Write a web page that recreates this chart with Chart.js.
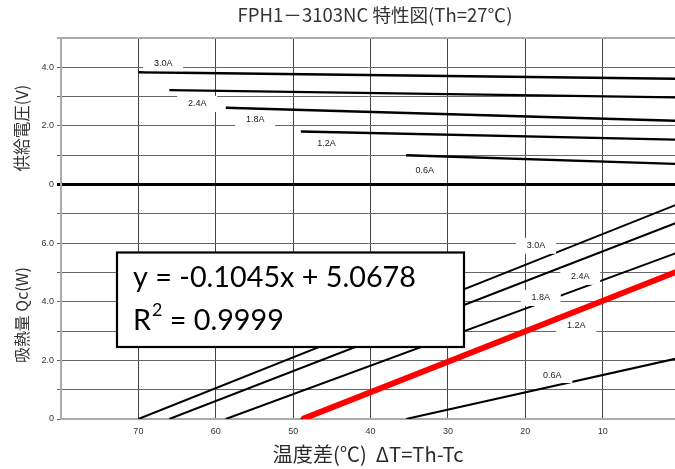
<!DOCTYPE html>
<html>
<head>
<meta charset="utf-8">
<script src="https://cdn.jsdelivr.net/npm/chart.js@4/dist/chart.umd.min.js"></script>
<style>
  html, body { margin: 0; padding: 0; background: #fff; overflow: hidden; }
  #wrap { width: 675px; height: 469px; }
</style>
</head>
<body>
<div id="wrap"><canvas id="c" width="675" height="469"></canvas></div>
<script>
// ---- data ----
const currents = ['0.6A', '1.2A', '1.8A', '2.4A', '3.0A'];

// supply voltage (V) vs ΔT (°C): straight lines, start / end points
const voltStartDT = [35.4, 49.0, 58.7, 66.0, 70.0];
const voltStartV  = [1.00, 1.81, 2.62, 3.22, 3.83];
const voltEndDT   = [0, 0, 0, 0, 0];
const voltEndV    = [0.70, 1.53, 2.17, 2.97, 3.61];

// heat absorption Qc (W) vs ΔT (°C)
const qcStartDT = [35.4, 49.0, 58.7, 66.0, 70.0];
const qcStartW  = [0, 0, 0, 0, 0];
const qcEndDT   = [0, 0, 0, 0, 0];
const qcEndW    = [2.09, 5.07, 5.71, 6.74, 7.36];

// linear fit (red) for the 1.2A Qc line
const fitDT = [48.8, 0];
const fitW  = [0.0, 5.07];

// ticks
const xTicks = [70, 60, 50, 40, 30, 20, 10];
const yTickLabels = { 0: '0', 2: '2.0', 4: '4.0', 6: '6.0', 8: '0', 10: '2.0', 12: '4.0' };
const VOLT_ZERO = 8;   // the voltage panel's 0 sits at Qc-axis value 8

// label anchor points (ΔT, axis value)
const voltLabelDT  = [33.0, 45.7, 54.9, 62.4, 66.8];
const voltLabelVal = [8.48, 9.41, 10.23, 10.75, 12.14];
const qcLabelDT    = [16.5, 13.4, 18.0, 12.9, 18.6];
const qcLabelVal   = [1.50, 3.20, 4.13, 4.85, 5.91];

const eqLine1 = 'y = -0.1045x + 5.0678';
const eqR2 = '0.9999';

const titleText = 'FPH1－3103NC 特性図(Th=27℃)';
const xTitleText = '温度差(℃)  ΔT=Th-Tc';
const yTitleVolt = '供給電圧(V)';
const yTitleQc = '吸熱量 Qc(W)';

// ---- datasets ----
const datasets = [];
currents.forEach((c, i) => {
  datasets.push({
    label: 'V ' + c,
    data: [{ x: voltStartDT[i], y: voltStartV[i] + VOLT_ZERO }, { x: voltEndDT[i], y: voltEndV[i] + VOLT_ZERO }],
    borderColor: '#000', borderWidth: 2.4, showLine: true, pointRadius: 0, fill: false
  });
  datasets.push({
    label: 'Qc ' + c,
    data: [{ x: qcStartDT[i], y: qcStartW[i] }, { x: qcEndDT[i], y: qcEndW[i] }],
    borderColor: '#000', borderWidth: 2, showLine: true, pointRadius: 0, fill: false
  });
});
datasets.push({
  label: 'fit',
  order: -1,
  data: fitDT.map((x, i) => ({ x: x, y: fitW[i] })),
  borderColor: '#ff0000', borderWidth: 6, showLine: true, pointRadius: 0, fill: false
});

function fitFont(ctx, text, family, target, base) {
  ctx.font = base + 'px ' + family;
  const w = ctx.measureText(text).width;
  const s = base * target / w;
  ctx.font = s + 'px ' + family;
  return s;
}

const annot = {
  id: 'annot',
  beforeDatasetDraw(chart, args) {
    if (chart.data.datasets[args.index].label !== 'fit') return;
    const ctx = chart.ctx, xs = chart.scales.x, ys = chart.scales.y;
    ctx.save();
    ctx.font = '9px "Liberation Sans", Arial, sans-serif';
    ctx.textAlign = 'center';
    ctx.textBaseline = 'middle';
    const draw = (dt, v, t) => {
      const px = xs.getPixelForValue(dt), py = ys.getPixelForValue(v);
      ctx.fillStyle = '#fff';
      ctx.fillRect(px - 20, py - 8, 40, 16);
      ctx.fillStyle = '#222';
      ctx.fillText(t, px, py);
    };
    currents.forEach((c, i) => {
      draw(voltLabelDT[i], voltLabelVal[i], c);
      draw(qcLabelDT[i], qcLabelVal[i], c);
    });
    ctx.restore();
  },
  afterDatasetsDraw(chart) {
    const ctx = chart.ctx;
    ctx.save();
    // equation box
    const bx = 117, by = 252.5, bw = 347, bh = 94.5;
    ctx.fillStyle = '#fff';
    ctx.fillRect(bx, by, bw, bh);
    ctx.strokeStyle = '#000';
    ctx.lineWidth = 2.2;
    ctx.strokeRect(bx, by, bw, bh);
    ctx.fillStyle = '#000';
    const fam = 'Lato, "Open Sans", sans-serif';
    const fs = fitFont(ctx, eqLine1, fam, 283, 28);
    ctx.textAlign = 'left';
    ctx.textBaseline = 'alphabetic';
    ctx.fillText(eqLine1, 133, 287);
    ctx.fillText('R', 133, 329.5);
    const rw = ctx.measureText('R').width;
    ctx.font = (fs * 0.62) + 'px ' + fam;
    ctx.fillText('2', 133 + rw + 1, 316);
    const sw = ctx.measureText('2').width;
    ctx.font = fs + 'px ' + fam;
    ctx.fillText(' = ' + eqR2, 133 + rw + 1 + sw, 329.5);
    ctx.restore();
  },
  afterDraw(chart) {
    const ctx = chart.ctx;
    const fam = '"Noto Sans CJK JP", sans-serif';
    ctx.save();
    ctx.fillStyle = '#333';
    ctx.textAlign = 'center';
    ctx.textBaseline = 'middle';
    fitFont(ctx, titleText, fam, 275, 15);
    ctx.fillText(titleText, 375, 15);
    ctx.fillStyle = '#2a2a2a';
    fitFont(ctx, xTitleText, fam, 191, 17);
    ctx.fillText(xTitleText, 368, 454);
    ctx.fillStyle = '#333';
    fitFont(ctx, yTitleVolt, fam, 87, 16);
    ctx.translate(22, 128);
    ctx.rotate(-Math.PI / 2);
    ctx.fillText(yTitleVolt, 0, 0);
    ctx.rotate(Math.PI / 2);
    ctx.translate(0, 315 - 128);
    ctx.rotate(-Math.PI / 2);
    fitFont(ctx, yTitleQc, fam, 96, 16);
    ctx.fillText(yTitleQc, 0, 0);
    ctx.restore();
  }
};

new Chart(document.getElementById('c'), {
  type: 'scatter',
  data: { datasets: datasets },
  options: {
    responsive: false,
    animation: false,
    layout: { padding: { top: 38, left: 0, right: 0, bottom: 0 } },
    plugins: { legend: { display: false }, tooltip: { enabled: false }, title: { display: false } },
    scales: {
      x: {
        type: 'linear', reverse: true, min: 0.65, max: 80,
        afterBuildTicks(scale) { scale.ticks = xTicks.map(v => ({ value: v })); },
        afterFit(scale) { scale.height = 50; scale.paddingLeft = 0; scale.paddingRight = 0; },
        ticks: { color: '#333', font: { size: 9, family: '"Liberation Sans", Arial, sans-serif' }, padding: 7, maxRotation: 0, autoSkip: false },
        grid: { color: '#444', lineWidth: 1, drawTicks: false },
        border: { color: '#aaa', width: 2 }
      },
      y: {
        type: 'linear', min: 0, max: 13,
        afterFit(scale) { scale.width = 61; },
        ticks: {
          stepSize: 1, autoSkip: false,
          color: '#333', font: { size: 9, family: '"Liberation Sans", Arial, sans-serif' }, padding: 3,
          callback: v => (yTickLabels[v] !== undefined ? yTickLabels[v] : '')
        },
        grid: {
          color: ctx => (ctx.tick && ctx.tick.value === VOLT_ZERO ? '#000' : (ctx.tick && ctx.tick.value === 13 ? '#aaa' : '#666')),
          lineWidth: ctx => (ctx.tick && ctx.tick.value === VOLT_ZERO ? 3 : (ctx.tick && ctx.tick.value === 13 ? 2 : 1)),
          tickLength: 4
        },
        border: { color: '#aaa', width: 2 }
      }
    }
  },
  plugins: [annot]
});
</script>
</body>
</html>
